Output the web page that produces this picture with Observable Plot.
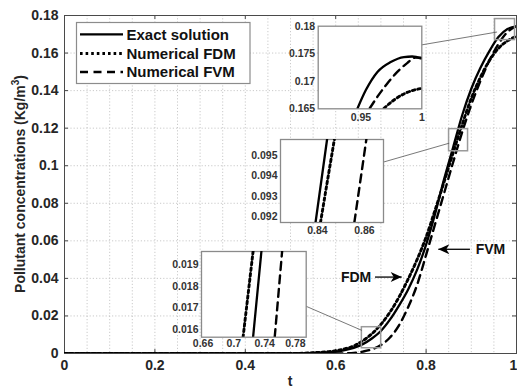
<!DOCTYPE html>
<html><head><meta charset="utf-8">
<script src="https://cdn.jsdelivr.net/npm/d3@7"></script>
<script src="https://cdn.jsdelivr.net/npm/@observablehq/plot@0.6"></script>
<style>
body{margin:0;background:#fff;}
#wrap{position:relative;width:517px;height:388px;font-family:"Liberation Sans",Arial,sans-serif;}
#wrap svg{position:absolute;}
</style></head><body><div id="wrap"></div>
<script>
// ---- main data ----
const t     = [0,0.1,0.2,0.3,0.4,0.5,0.55,0.6,0.62,0.64,0.66,0.68,0.70,0.72,0.74,0.76,0.78,0.80,0.82,0.84,0.86,0.88,0.90,0.92,0.94,0.96,0.98,1.0];
const exact = [0,0,0,0,0,0,0.0003,0.001,0.0018,0.003,0.005,0.008,0.012,0.018,0.0255,0.034,0.0445,0.058,0.0745,0.093,0.110,0.127,0.141,0.152,0.161,0.1685,0.1728,0.1742];
const fdm   = [0,0,0,0,0,0,0.0004,0.0015,0.0025,0.004,0.0068,0.0105,0.0155,0.022,0.030,0.0395,0.050,0.062,0.0765,0.0915,0.107,0.122,0.136,0.147,0.156,0.1625,0.1665,0.169];
const fvm   = [0,0,0,0,0,0,0,0,0.0001,0.0003,0.001,0.0022,0.0045,0.0085,0.015,0.0245,0.0365,0.0525,0.069,0.0855,0.102,0.118,0.1325,0.145,0.156,0.1648,0.1712,0.1743];
const seriesNames = ["Exact solution","Numerical FDM","Numerical FVM"];
const xTicks = [0,0.2,0.4,0.6,0.8,1];
const yTicks = [0,0.02,0.04,0.06,0.08,0.1,0.12,0.14,0.16,0.18];
const xGrid = [0.05,0.1,0.15,0.2,0.25,0.3,0.35,0.4,0.45,0.5,0.55,0.6,0.65,0.7,0.75,0.8,0.85,0.9,0.95];
const yGrid = [0.02,0.04,0.06,0.08,0.1,0.12,0.14,0.16];
// zoom boxes on main axes
const boxT1 = [0.9525,0.8508,0.6579];
const boxT2 = [0.9967,0.8928,0.7006];
const boxC1 = [0.1669,0.1077,0.0028];
const boxC2 = [0.1781,0.1195,0.0140];
// connectors (inset edge -> box)
const conT1 = [0.789,0.705,0.534];
const conC1 = [0.1643,0.1019,0.0252];
const conT2 = [0.957,0.851,0.658];
const conC2 = [0.1712,0.1120,0.0123];
// annotations
const annText = ["FDM","FVM"];
const annT = [0.645,0.9425];
const annC = [0.0407,0.0555];
const arrT1 = [0.687,0.897];
const arrT2 = [0.746,0.827];
const arrC = [0.0407,0.0555];

// ---- inset data ----
const topXTicks = [0.95,1], topYTicks = [0.165,0.17,0.175,0.18];
const topExT = [0.9473,0.9541,0.9636,0.9745,0.9853,0.9921,1.0];
const topExC = [0.1651,0.1684,0.1717,0.1735,0.1744,0.1745,0.1741];
const topFdmT = [0.969,0.9772,0.9853,0.9935,1.0];
const topFdmC = [0.1651,0.1666,0.1677,0.1684,0.1687];
const topFvmT = [0.9573,0.9636,0.9717,0.9799,0.988,0.9948,1.0];
const topFvmC = [0.1651,0.1672,0.1696,0.1717,0.1733,0.1743,0.1743];

const midXTicks = [0.84,0.86], midYTicks = [0.092,0.093,0.094,0.095];
const midC = [0.0917,0.0958];
const midExT = [0.8392,0.8441];
const midFdmT = [0.8413,0.8472];
const midFvmT = [0.8557,0.8608];

const lowXTicks = [0.66,0.7,0.74,0.78], lowYTicks = [0.016,0.017,0.018,0.019];
const lowC = [0.01566,0.0196];
const lowExT = [0.725,0.7358];
const lowFdmT = [0.712,0.725];
const lowFvmT = [0.7531,0.7627];

const dashes = [null,"2.6,3","8,5.5"];
const widths = [2.3,2.9,2.4];
const rowsOf = (ts, cs, s) => ts.map((v,i)=>({t:v, c:cs[i], s}));
const mainSeries = [rowsOf(t,exact,0), rowsOf(t,fdm,1), rowsOf(t,fvm,2)];

const fmt = d => String(d);
const wrap = document.getElementById("wrap");

function arrowMarker(color, context) {
  const m = d3.create("svg:marker")
    .attr("viewBox","-12 -6 13 12").attr("markerUnits","userSpaceOnUse")
    .attr("markerWidth",13).attr("markerHeight",12).attr("refX",0).attr("refY",0)
    .attr("orient","auto");
  m.append("path").attr("d","M0,0L-11,-5L-8,0L-11,5Z").attr("fill","black").attr("stroke","none");
  return m.node();
}

const lineMarks = (series) => series.map((rows,i)=>Plot.line(rows,{x:"t",y:"c",stroke:"black",strokeWidth:widths[i],
  strokeDasharray:dashes[i], curve:"monotone-x", clip:true}));

const main = Plot.plot({
  width:517, height:388, marginLeft:64, marginRight:1, marginTop:15, marginBottom:35,
  x:{domain:[0,1], ticks:xTicks, tickFormat:fmt, tickSize:0, tickPadding:7, label:null},
  y:{domain:[0,0.18], ticks:yTicks, tickFormat:fmt, tickSize:0, tickPadding:6, label:null},
  style:{fontFamily:"Liberation Sans, Arial, sans-serif", fontSize:"14px", fontWeight:"bold", color:"#262626", background:"transparent", overflow:"visible"},
  marks:[
    Plot.ruleX(xGrid,{stroke:"#bdbdbd", strokeWidth:0.8, strokeDasharray:"1.2,2"}),
    Plot.ruleY(yGrid,{stroke:"#bdbdbd", strokeWidth:0.8, strokeDasharray:"1.2,2"}),
    Plot.ruleX(xTicks,{y1:0,y2:0.0021,stroke:"#444"}),
    Plot.ruleX(xTicks,{y1:0.1779,y2:0.18,stroke:"#444"}),
    Plot.ruleY(yTicks,{x1:0,x2:0.0088,stroke:"#444"}),
    Plot.ruleY(yTicks,{x1:0.9912,x2:1,stroke:"#444"}),
    Plot.frame({stroke:"#4a4a4a", strokeWidth:1}),
    ...lineMarks(mainSeries),
    Plot.rect(boxT1.map((v,i)=>i),{x1:i=>boxT1[i],x2:i=>boxT2[i],y1:i=>boxC1[i],y2:i=>boxC2[i],fill:"none",stroke:"#9a9a9a",strokeWidth:1.5}),
    Plot.link(conT1.map((v,i)=>i),{x1:i=>conT1[i],y1:i=>conC1[i],x2:i=>conT2[i],y2:i=>conC2[i],stroke:"#555",strokeWidth:0.8}),
    Plot.text(annText.map((v,i)=>i),{x:i=>annT[i],y:i=>annC[i],text:i=>annText[i],fontSize:14,fontWeight:"bold",fill:"#111"}),
    Plot.link(arrT1.map((v,i)=>i),{x1:i=>arrT1[i],x2:i=>arrT2[i],y1:i=>arrC[i],y2:i=>arrC[i],stroke:"black",strokeWidth:1.3,markerEnd:arrowMarker})
  ]
});
main.style.left="0px"; main.style.top="0px";
wrap.appendChild(main);

// keep the last x tick label inside the picture
d3.select(main).selectAll("g[aria-label='x-axis tick label'] text, g[aria-label='x-axis'] text")
  .filter(function(){ return this.textContent === "1"; }).attr("dx", -3);

// axis labels + legend
const svg = d3.select(main);
svg.append("text").attr("transform","translate(25,184) rotate(-90)").attr("text-anchor","middle")
  .attr("font-size",14).attr("font-weight","bold").attr("fill","#262626")
  .text("Pollutant concentrations (Kg/m")
  .call(s=>s.append("tspan").attr("font-size",10).attr("dy",-6).text("3"))
  .call(s=>s.append("tspan").attr("dy",6).text(")"));
svg.append("text").attr("x",290).attr("y",386).attr("text-anchor","middle")
  .attr("font-size",14).attr("font-weight","bold").attr("fill","#262626").text("t");
const lg = svg.append("g").attr("text-anchor","start");
lg.append("rect").attr("x",76.5).attr("y",22.5).attr("width",173.5).attr("height",61)
  .attr("fill","white").attr("stroke","#8c8c8c").attr("stroke-width",1.2);
const rowY = [34.3,53.5,72];
seriesNames.forEach((name,i)=>{
  lg.append("line").attr("x1",80).attr("x2",123).attr("y1",rowY[i]).attr("y2",rowY[i])
    .attr("stroke","black").attr("stroke-width",widths[i]).attr("stroke-dasharray",dashes[i]);
  lg.append("text").attr("x",126.5).attr("y",rowY[i]).attr("dy","0.36em").attr("text-anchor","start")
    .attr("font-size",15).attr("font-weight","bold").attr("fill","#111").text(name);
});

// insets
function inset(pos, xd, yd, xt, yt, series, padX) {
  const p = Plot.plot({
    width:pos.w, height:pos.h, marginLeft:pos.ml, marginRight:pos.mr, marginTop:pos.mt, marginBottom:pos.mb,
    x:{domain:xd, ticks:xt, tickFormat:fmt, tickSize:0, tickPadding:padX, label:null},
    y:{domain:yd, ticks:yt, tickFormat:fmt, tickSize:0, tickPadding:3, label:null},
    style:{fontFamily:"Liberation Sans, Arial, sans-serif", fontSize:"10.5px", fontWeight:"bold", color:"#333", background:"transparent", overflow:"visible"},
    marks:[
      Plot.frame({fill:"white", stroke:"#8a8a8a", strokeWidth:1.3}),
      ...lineMarks(series)
    ]
  });
  p.style.left = pos.left+"px"; p.style.top = pos.top+"px";
  wrap.appendChild(p);
}
inset({left:280,top:18,w:145,h:110,ml:37.7,mr:3.7,mt:7.7,mb:19.7}, [0.915,1], [0.165,0.18], topXTicks, topYTicks,
  [rowsOf(topExT,topExC,0), rowsOf(topFdmT,topFdmC,1), rowsOf(topFvmT,topFvmC,2)], 5);
inset({left:240,top:132,w:148,h:107,ml:40,mr:5,mt:7,mb:17}, [0.8243,0.8681], [0.0917,0.0958], midXTicks, midYTicks,
  [rowsOf(midExT,midC,0), rowsOf(midFdmT,midC,1), rowsOf(midFvmT,midC,2)], 4);
inset({left:160,top:244,w:150,h:108,ml:41,mr:4.3,mt:7,mb:15.3}, [0.658,0.794], [0.01566,0.0196], lowXTicks, lowYTicks,
  [rowsOf(lowExT,lowC,0), rowsOf(lowFdmT,lowC,1), rowsOf(lowFvmT,lowC,2)], 2);
</script></body></html>
